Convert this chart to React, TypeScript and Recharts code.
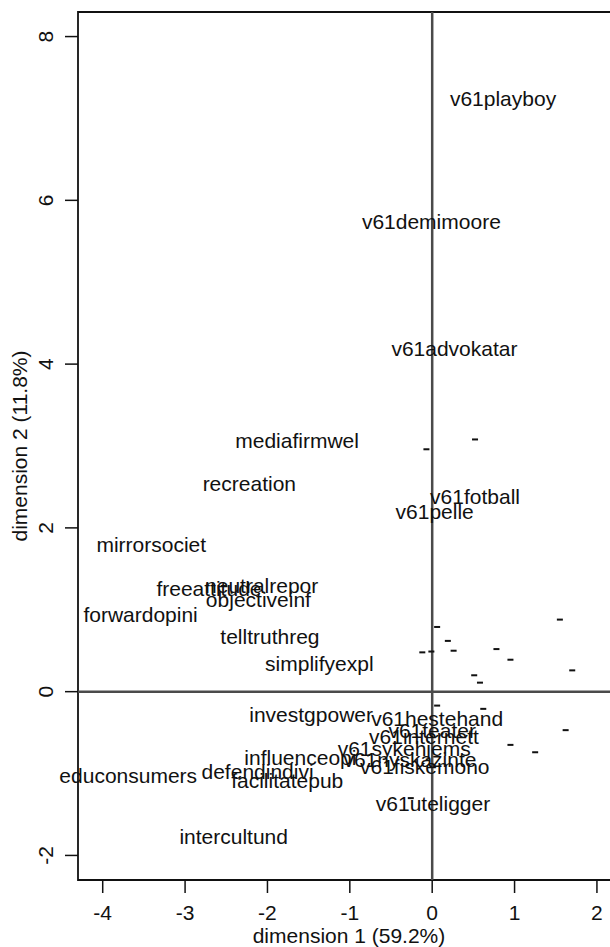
import React from 'react';
import { ScatterChart, Scatter, XAxis, YAxis, ReferenceLine, ReferenceArea } from 'recharts';

const labelNames = [
  'v61playboy', 'v61demimoore', 'v61advokatar', 'mediafirmwel', 'recreation',
  'v61fotball', 'v61pelle', 'mirrorsociet', 'freeattitude', 'neutralrepor',
  'objectiveinf', 'forwardopini', 'telltruthreg', 'simplifyexpl', 'investgpower',
  'v61hestehand', 'v61teater', 'v61internett', 'v61sykehjems', 'influenceopi',
  'v61nyskazinte', 'v61fiskemono', 'educonsumers', 'defendindivi', 'facilitatepub',
  'v61uteligger', 'intercultund',
];
const labelX = [
  0.86, -0.01, 0.27, -1.64, -2.22,
  0.52, 0.03, -3.41, -2.71, -2.07,
  -2.11, -3.54, -1.97, -1.37, -1.47,
  0.06, 0.0, -0.10, -0.34, -1.60,
  -0.27, -0.09, -3.69, -2.12, -1.76,
  0.01, -2.41,
];
const labelY = [
  7.22, 5.72, 4.17, 3.05, 2.52,
  2.37, 2.18, 1.78, 1.24, 1.28,
  1.11, 0.93, 0.66, 0.32, -0.30,
  -0.34, -0.49, -0.56, -0.71, -0.82,
  -0.85, -0.93, -1.04, -0.99, -1.10,
  -1.38, -1.79,
];

const dashX = [-0.07, 0.52, 1.55, 0.06, 0.19, 0.26, 0.78, 0.95, 1.70, 0.51, 0.58, -0.12, -0.01, 0.06, 0.62, 1.62, 0.95, 1.25, -0.26];
const dashY = [2.96, 3.08, 0.88, 0.79, 0.62, 0.50, 0.52, 0.39, 0.26, 0.20, 0.11, 0.48, 0.49, -0.17, -0.21, -0.47, -0.65, -0.74, -1.30];

const xTicks = [-4, -3, -2, -1, 0, 1, 2];
const yTicks = [-2, 0, 2, 4, 6, 8];
const xDomain = [-4.3, 2.28];
const yDomain = [-2.3, 8.3];
const xTitle = 'dimension 1 (59.2%)';
const yTitle = 'dimension 2 (11.8%)';

const labelData = labelNames.map((name, i) => ({ name, x: labelX[i], y: labelY[i] }));
const dashData = dashX.map((x, i) => ({ x, y: dashY[i] }));

const FONT = '"Liberation Sans", Arial, Helvetica, sans-serif';
const FS = 21;

const TextShape = (props: any) => {
  const { cx, cy, payload } = props;
  return (
    <text x={cx} y={cy + 6} textAnchor="middle" fontFamily={FONT} fontSize={FS} fill="#111">
      {payload.name}
    </text>
  );
};

const DashShape = (props: any) => {
  const { cx, cy } = props;
  return <rect x={cx - 3} y={cy - 1} width={6} height={2} fill="#111" />;
};

const XTick = (props: any) => {
  const { x, payload } = props;
  return (
    <text x={x} y={920} textAnchor="middle" fontFamily={FONT} fontSize={FS} fill="#111">
      {payload.value}
    </text>
  );
};

const YTick = (props: any) => {
  const { y, payload } = props;
  return (
    <g transform={`translate(45, ${y}) rotate(-90)`}>
      <text x={0} y={0} textAnchor="middle" dominantBaseline="central" fontFamily={FONT} fontSize={FS} fill="#111">
        {payload.value}
      </text>
    </g>
  );
};

const XTitle = () => (
  <text x={349} y={943} textAnchor="middle" fontFamily={FONT} fontSize={FS} fill="#111">
    {xTitle}
  </text>
);

const YTitle = () => (
  <text x={27} y={446} transform="rotate(-90, 27, 446)" textAnchor="middle" fontFamily={FONT} fontSize={FS} fill="#111">
    {yTitle}
  </text>
);

export default function App() {
  return (
    <div style={{ position: 'absolute', left: 0, top: 0, width: 610, height: 947, overflow: 'hidden', background: '#fff' }}>
      <ScatterChart width={640} height={947} margin={{ top: 12, right: 20, bottom: 0, left: 0 }}>
        <XAxis
          type="number"
          dataKey="x"
          domain={xDomain}
          ticks={xTicks}
          axisLine={false}
          tickLine={{ stroke: '#111', strokeWidth: 1.5 }}
          tickSize={13}
          height={67}
          tick={<XTick />}
          label={<XTitle />}
          interval={0}
        />
        <YAxis
          type="number"
          dataKey="y"
          domain={yDomain}
          ticks={yTicks}
          axisLine={false}
          tickLine={{ stroke: '#111', strokeWidth: 1.5 }}
          tickSize={13}
          width={78}
          tick={<YTick />}
          label={<YTitle />}
          interval={0}
        />
        <ReferenceLine x={0} stroke="#4a4a4a" strokeWidth={2.5} />
        <ReferenceLine y={0} stroke="#4a4a4a" strokeWidth={2.5} />
        <ReferenceArea x1={xDomain[0]} x2={xDomain[1]} y1={yDomain[0]} y2={yDomain[1]} fill="none" fillOpacity={0} stroke="#111" strokeWidth={1.8} />
        <Scatter data={dashData} shape={<DashShape />} isAnimationActive={false} />
        <Scatter data={labelData} shape={<TextShape />} isAnimationActive={false} />
      </ScatterChart>
    </div>
  );
}
